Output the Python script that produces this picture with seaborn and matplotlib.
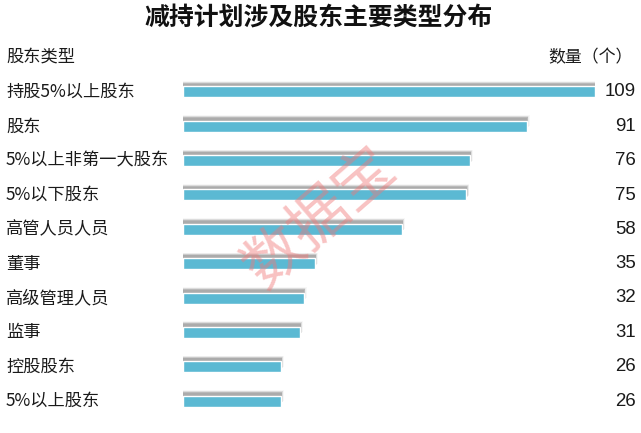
import numpy as np
import pandas as pd
import seaborn as sns
import matplotlib.pyplot as plt

sns.set_theme(style="white")
plt.rcParams['font.family'] = ['Noto Sans CJK SC', 'DejaVu Sans']

categories = ["持股5%以上股东", "股东", "5%以上非第一大股东", "5%以下股东", "高管人员人员",
              "董事", "高级管理人员", "监事", "控股股东", "5%以上股东"]
counts = [109, 91, 76, 75, 58, 35, 32, 31, 26, 26]

title = "减持计划涉及股东主要类型分布"
left_header = "股东类型"
right_header = "数量（个）"
watermark = "数据宝"

df = pd.DataFrame({"type": categories, "count": counts})

W, H = 641, 433
fig = plt.figure(figsize=(W / 100, H / 100), dpi=100)
fig.patch.set_facecolor("white")

# plot area: x from 183px to 595px, rows centred from y=92px to y=401px
x0, x1 = 183, 595
row0, rowN = 92, 401
step = (rowN - row0) / (len(categories) - 1)
top_px = row0 - step / 2
bot_px = rowN + step / 2
ax = fig.add_axes([x0 / W, (H - bot_px) / H, (x1 - x0) / W, (bot_px - top_px) / H])

bar_h = 11 / step
pos = np.arange(len(categories))

# soft grey shadow above and slightly right of each bar
for dy, dx, a in [(0.16, 0.7, 0.05), (0.145, 0.55, 0.08), (0.13, 0.4, 0.12),
                  (0.115, 0.3, 0.16), (0.10, 0.2, 0.18), (0.085, 0.1, 0.18)]:
    ax.barh(pos - dy, np.array(counts) + dx, height=bar_h, left=0,
            color="#707070", alpha=a, linewidth=0, zorder=1)

sns.barplot(data=df, y="type", x="count", orient="h", color="#5bb9d3",
            saturation=1, width=bar_h, edgecolor="white", linewidth=1.0,
            ax=ax, zorder=3)

ax.set_xlim(0, 109)
ax.set_ylim(len(categories) - 0.5, -0.5)
ax.axis("off")

# category labels and values
for i, (c, v) in enumerate(zip(categories, counts)):
    yp = (row0 + i * step) / H
    fig.text(6 / W, 1 - yp, c, ha="left", va="center", fontsize=12.4, color="#1a1a1a")
    fig.text(636 / W, 1 - yp, str(v), ha="right", va="center", fontsize=13.4,
             color="#1a1a1a", family=["Liberation Sans", "DejaVu Sans"])

fig.text(319 / W, 1 - 19 / H, title, ha="center", va="center", fontsize=17.9,
         fontweight="bold", color="#111111")
fig.text(6 / W, 1 - 57 / H, left_header, ha="left", va="center", fontsize=12.4, color="#1a1a1a")
fig.text(633 / W, 1 - 57 / H, right_header, ha="right", va="center", fontsize=12.2, color="#1a1a1a")

# watermark
fig.text(321 / W, 1 - 219 / H, watermark, ha="center", va="center", fontsize=43,
         rotation=41, color="#f07878", alpha=0.45, fontweight="light", zorder=10)

fig.savefig("out.png", dpi=100, facecolor="white")
